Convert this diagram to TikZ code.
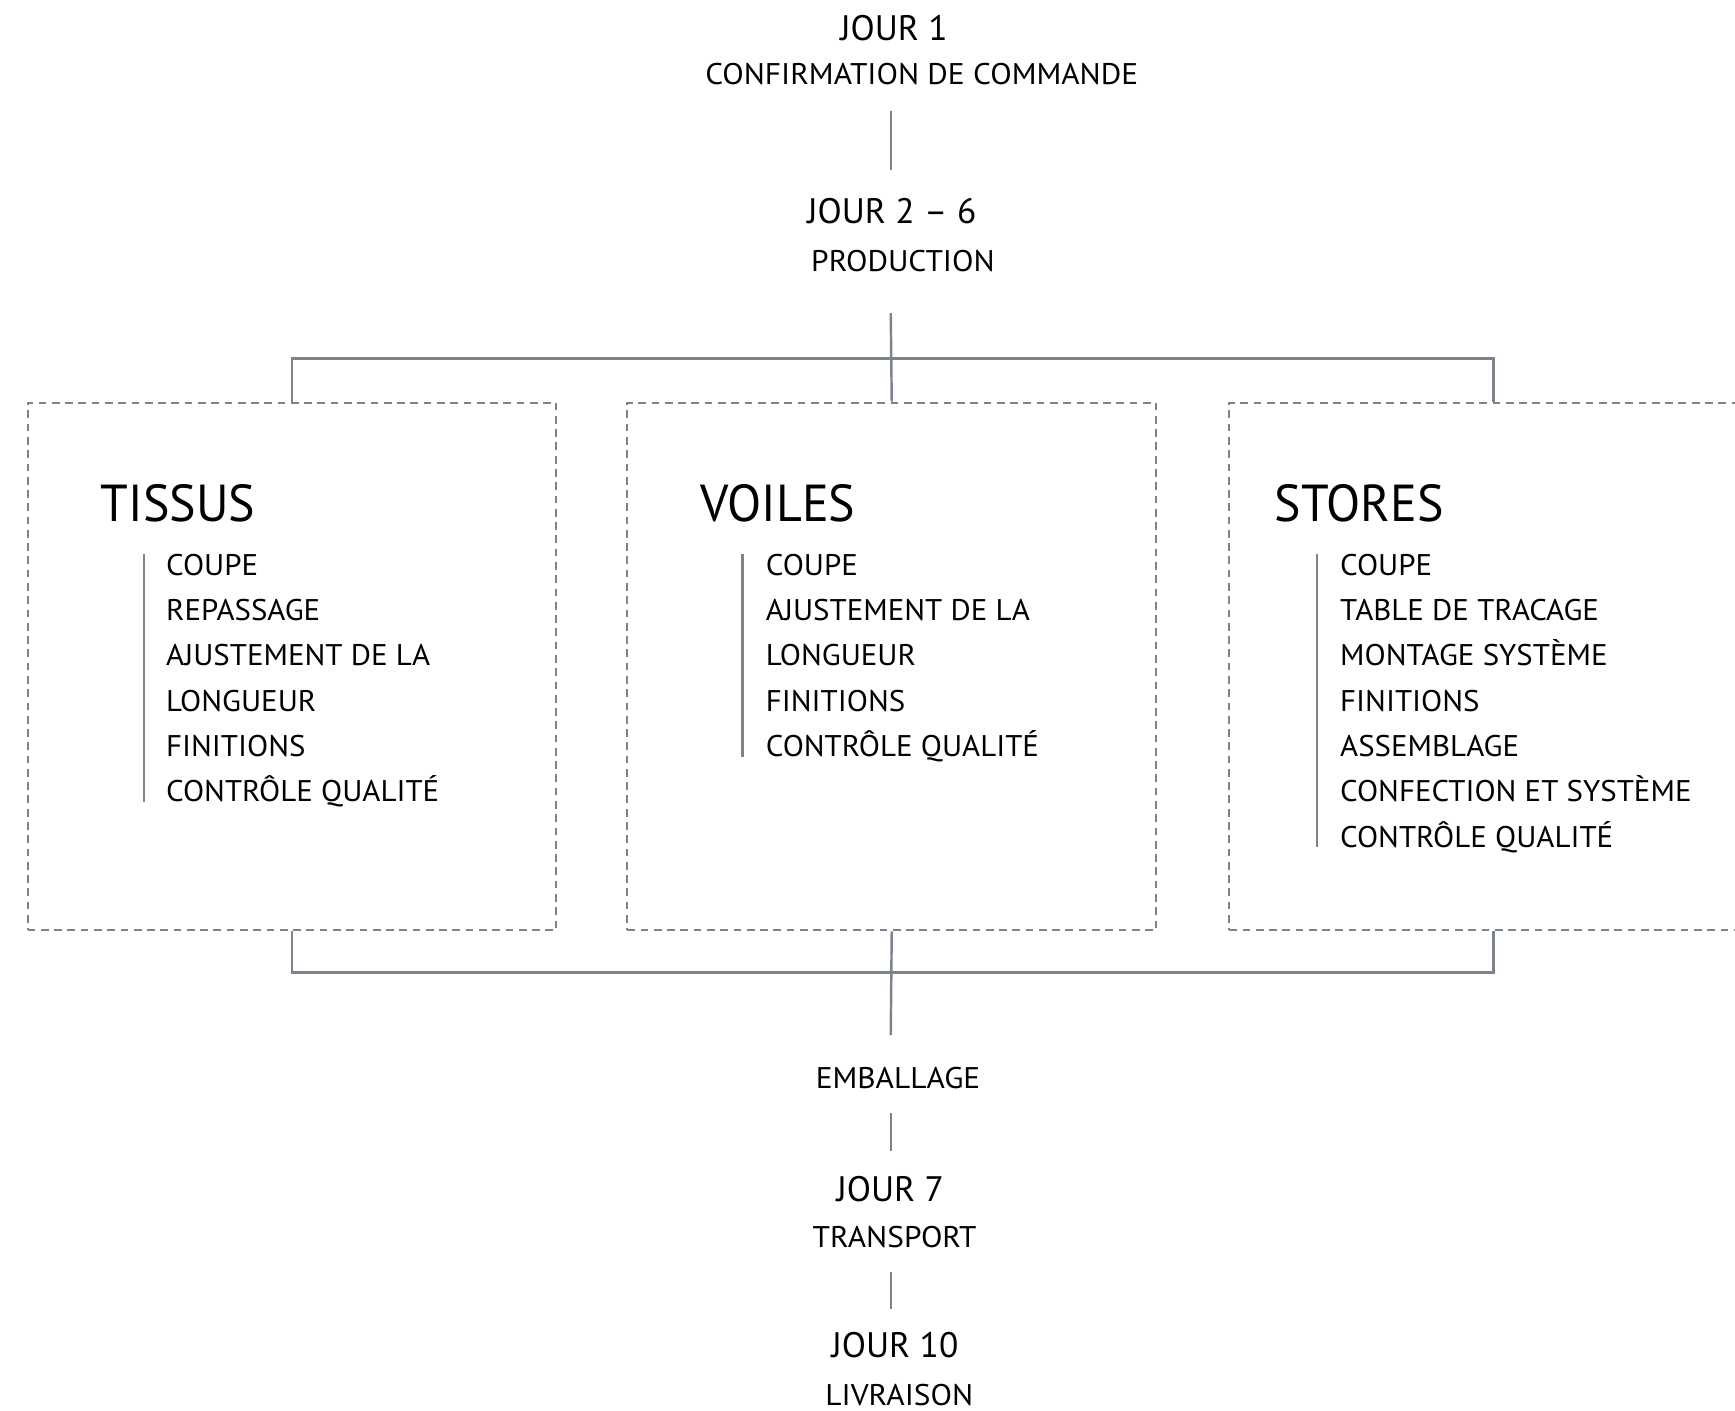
\documentclass[tikz,border=0pt]{standalone}
\usepackage{fontspec}
\setmainfont{PT Sans}
\newfontfamily\subfont[FakeStretch=1.05]{PT Sans}
\newfontfamily\itemfont[FakeStretch=1.035]{PT Sans}
\newfontfamily\headfont[FakeStretch=0.96]{PT Sans}
\definecolor{ln}{HTML}{7D838C}
\begin{document}
\begin{tikzpicture}[x=1pt,y=-1pt,
  conn/.style={draw=ln,line width=2.2pt},
  bar/.style={draw=ln,line width=2pt},
  dbox/.style={draw=ln,line width=1.8pt,dash pattern=on 7pt off 5pt,inner sep=0,minimum width=478pt,minimum height=477pt,anchor=north west},
  jour/.style={font=\fontsize{32}{32}\selectfont,anchor=base,inner sep=0},
  sub/.style={font=\subfont\fontsize{27}{27}\selectfont,anchor=base,inner sep=0},
  head/.style={font=\headfont\fontsize{47}{47}\selectfont,anchor=base west,inner sep=0},
  item/.style={font=\itemfont\fontsize{27}{27}\selectfont,anchor=base west,inner sep=0},
]
\useasboundingbox (0,0) rectangle (1568,1274.3);

% top texts
\node[jour] (j1) at (808,36.2) {JOUR 1};
\node[sub] (conf) at (833,76.8) {CONFIRMATION DE COMMANDE};
\node[jour] (j2) at (806,201.7) {JOUR 2 – 6};
\node[sub] (prod) at (816,245.5) {PRODUCTION};

% boxes
\node[dbox] (b1) at (24,363) {};
\node[dbox] (b2) at (566,363) {};
\node[dbox] (b3) at (1110,363) {};

% connectors
\coordinate (c1a) at (805,100);
\coordinate (c1b) at (805,154);
\coordinate (c2a) at (805,283);
\coordinate (hb) at (805,324);
\coordinate (hb2) at (805,879);
\coordinate (c3b) at (805,935.4);
\draw[conn] (c1a) -- (c1b);
\draw[conn] (c2a) -- (b2.north);
\draw[conn] (b1.north) -- (b1.north |- hb) -- (b3.north |- hb) -- (b3.north);
\draw[conn] (b1.south) -- (b1.south |- hb2) -- (b3.south |- hb2) -- (b3.south);
\draw[conn] (b2.south) -- (c3b);

% TISSUS
\node[head] (h1) at (91,471.5) {TISSUS};
\draw[bar] (130,500.7) coordinate (t1a) -- (130,724.7) coordinate (t1b);
\node[item] (t1i1) at (150,519.7) {COUPE};
\node[item] (t1i2) at (150,560.7) {REPASSAGE};
\node[item] (t1i3) at (150,601.7) {AJUSTEMENT DE LA};
\node[item] (t1i4) at (150,642.7) {LONGUEUR};
\node[item] (t1i5) at (150,683.7) {FINITIONS};
\node[item] (t1i6) at (150,724.7) {CONTRÔLE QUALITÉ};

% VOILES
\node[head] (h2) at (633,471.5) {VOILES};
\draw[bar] (671,500.7) coordinate (t2a) -- (671,683.7) coordinate (t2b);
\node[item] (t2i1) at (692,519.7) {COUPE};
\node[item] (t2i2) at (692,560.7) {AJUSTEMENT DE LA};
\node[item] (t2i3) at (692,601.7) {LONGUEUR};
\node[item] (t2i4) at (692,642.7) {FINITIONS};
\node[item] (t2i5) at (692,683.7) {CONTRÔLE QUALITÉ};

% STORES
\node[head] (h3) at (1152,471.5) {STORES};
\draw[bar] (1190,500.7) coordinate (t3a) -- (1190,765.7) coordinate (t3b);
\node[item] (t3i1) at (1211,519.7) {COUPE};
\node[item] (t3i2) at (1211,560.7) {TABLE DE TRACAGE};
\node[item] (t3i3) at (1211,601.7) {MONTAGE SYSTÈME};
\node[item] (t3i4) at (1211,642.7) {FINITIONS};
\node[item] (t3i5) at (1211,683.7) {ASSEMBLAGE};
\node[item] (t3i6) at (1211,724.7) {CONFECTION ET SYSTÈME};
\node[item] (t3i7) at (1211,765.7) {CONTRÔLE QUALITÉ};

% bottom
\node[sub] (emb) at (811.6,983.6) {EMBALLAGE};
\coordinate (c4a) at (805,1006);
\coordinate (c4b) at (805,1040);
\draw[conn] (c4a) -- (c4b);
\node[jour] (j7) at (804.6,1085.4) {JOUR 7};
\node[sub] (tr) at (808.5,1127.6) {TRANSPORT};
\coordinate (c5a) at (805,1150);
\coordinate (c5b) at (805,1183.3);
\draw[conn] (c5a) -- (c5b);
\node[jour] (j10) at (808.8,1226.7) {JOUR 10};
\node[sub] (liv) at (812.7,1269.8) {LIVRAISON};
\end{tikzpicture}
\end{document}
